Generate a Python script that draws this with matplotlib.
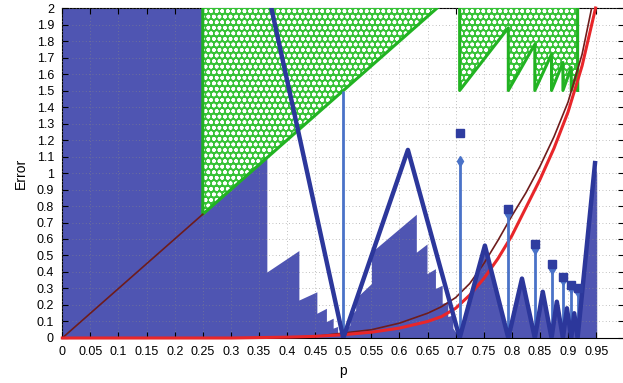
import numpy as np
import matplotlib
matplotlib.use('Agg')
import matplotlib.pyplot as plt

plt.rcParams['font.family'] = ['Liberation Sans', 'DejaVu Sans']
plt.rcParams['hatch.linewidth'] = 1.1

# blue filled area (upper edge)
fill_p = [0, 0.25, 0.25, 0.364, 0.364, 0.421, 0.421, 0.453, 0.453, 0.470, 0.470,
          0.482, 0.482, 0.490, 0.490, 0.496, 0.496, 0.500,
          0.506, 0.506, 0.512, 0.512, 0.522, 0.522, 0.550, 0.550, 0.630, 0.630,
          0.649, 0.649, 0.664, 0.664, 0.676, 0.676, 0.686, 0.686, 0.695, 0.695, 0.7071,
          0.752, 0.7937, 0.818, 0.8409, 0.855, 0.8706, 0.880, 0.8909, 0.898, 0.9057,
          0.911, 0.9170, 0.948, 0.951, 0.951]
fill_err = [2, 2, 0.75, 1.092, 0.40, 0.53, 0.23, 0.28, 0.15, 0.18, 0.10,
            0.12, 0.06, 0.07, 0.03, 0.035, 0.01, 0.0,
            0.03, 0.06, 0.08, 0.13, 0.17, 0.24, 0.33, 0.52, 0.75, 0.52,
            0.57, 0.39, 0.42, 0.30, 0.32, 0.21, 0.22, 0.13, 0.14, 0.06, 0.0,
            0.56, 0.0, 0.36, 0.0, 0.28, 0.0, 0.22, 0.0, 0.18, 0.0,
            0.15, 0.0, 1.06, 1.0, 0.0]

# green hatched regions
tri_p = [0.25, 0.25, 0.667]
tri_err = [2.0, 0.75, 2.0]
saw_p = [0.7071, 0.7071, 0.7937, 0.7937, 0.8409, 0.8409, 0.8706, 0.8706, 0.8909, 0.8909,
         0.9057, 0.9057, 0.9170, 0.9170, 0.9170]
saw_err = [2.0, 1.5, 1.88, 1.5, 1.78, 1.5, 1.72, 1.5, 1.67, 1.5, 1.64, 1.5, 1.62, 1.5, 2.0]

# thick zigzag line
zig_p = [0.372, 0.5, 0.615, 0.7071, 0.752, 0.7937, 0.818, 0.8409, 0.855, 0.8706,
         0.880, 0.8909, 0.898, 0.9057, 0.911, 0.9170, 0.948]
zig_err = [2.0, 0.0, 1.14, 0.0, 0.56, 0.0, 0.36, 0.0, 0.28, 0.0,
           0.22, 0.0, 0.18, 0.0, 0.15, 0.0, 1.06]

# stems and markers
stem_p = [0.5, 0.7071, 0.7937, 0.8409, 0.8706, 0.8909, 0.9057, 0.9170]
stem_top = [1.5, 1.07, 0.75, 0.54, 0.42, 0.35, 0.30, 0.28]
sq_p = [0.7071, 0.7937, 0.8409, 0.8706, 0.8909, 0.9057, 0.9170]
sq_err = [1.24, 0.78, 0.57, 0.45, 0.37, 0.32, 0.30]

# curves
red_p = [0, 0.3, 0.4, 0.45, 0.5, 0.55, 0.6, 0.625, 0.65, 0.675, 0.7, 0.725, 0.75,
         0.775, 0.8, 0.825, 0.85, 0.875, 0.9, 0.925, 0.949]
red_err = [0, 0.0, 0.005, 0.01, 0.02, 0.035, 0.06, 0.08, 0.10, 0.13, 0.18, 0.26, 0.36,
           0.48, 0.62, 0.79, 0.96, 1.15, 1.37, 1.65, 2.0]
brown_p = [0, 0.25]
brown_err = [0, 0.75]
brown2_p = [0.4, 0.45, 0.5, 0.55, 0.6, 0.625, 0.65, 0.675, 0.7, 0.725, 0.75, 0.775,
            0.8, 0.825, 0.85, 0.875, 0.9, 0.925, 0.942]
brown2_err = [0.004, 0.01, 0.03, 0.05, 0.09, 0.12, 0.15, 0.19, 0.245, 0.33, 0.45, 0.59,
              0.74, 0.88, 1.04, 1.22, 1.43, 1.72, 2.0]

fig = plt.figure(figsize=(6.23, 3.83), dpi=100)
ax = fig.add_axes([0.1, 0.1175, 0.902, 0.8616])

ax.fill_between(fill_p, 0, fill_err, color='#4f55b2', lw=0, zorder=2)

ax.fill(tri_p, tri_err, facecolor='#36c236', edgecolor='white', hatch='ooo', lw=0, zorder=3)
ax.fill(saw_p, saw_err, facecolor='#36c236', edgecolor='white', hatch='ooo', lw=0, zorder=3)
ax.plot(tri_p, tri_err, color='#22b322', lw=2.2, zorder=4)
ax.plot(saw_p, saw_err, color='#22b322', lw=2.2, zorder=4)

ax.plot(brown_p, brown_err, color='#6e1c1c', lw=1.2, zorder=5)
ax.plot(brown2_p, brown2_err, color='#6e1c1c', lw=1.2, zorder=5)
ax.plot(red_p, red_err, color='#e8262a', lw=2.2, zorder=5, clip_on=False)

ax.vlines(stem_p, 0, stem_top, color='#4a72c8', lw=2.0, zorder=6)
ax.plot(stem_p[1:], stem_top[1:], 'd', color='#4a72c8', ms=5, zorder=6)
ax.plot(zig_p, zig_err, color='#2c379b', lw=3.2, zorder=7)
ax.plot(sq_p, sq_err, 's', color='#2f3da0', ms=6, zorder=8)

ax.set_xlim(0, 1)
ax.set_ylim(0, 2)
xt = np.round(np.arange(0, 0.96, 0.05), 2)
ax.set_xticks(xt)
ax.set_xticklabels(['%g' % v for v in xt])
yt = np.round(np.arange(0, 2.01, 0.1), 1)
ax.set_yticks(yt)
ax.set_yticklabels(['%g' % v for v in yt])
ax.tick_params(direction='in', length=4, labelsize=9, top=True, right=True, pad=6)
ax.grid(True, linestyle=(0, (1, 3)), color='#888888', lw=0.6, alpha=0.7, zorder=9)
ax.set_axisbelow(False)
ax.set_xlabel('p', fontsize=10)
ax.set_ylabel('Error', fontsize=10, labelpad=6)

plt.savefig('out.png', dpi=100)
